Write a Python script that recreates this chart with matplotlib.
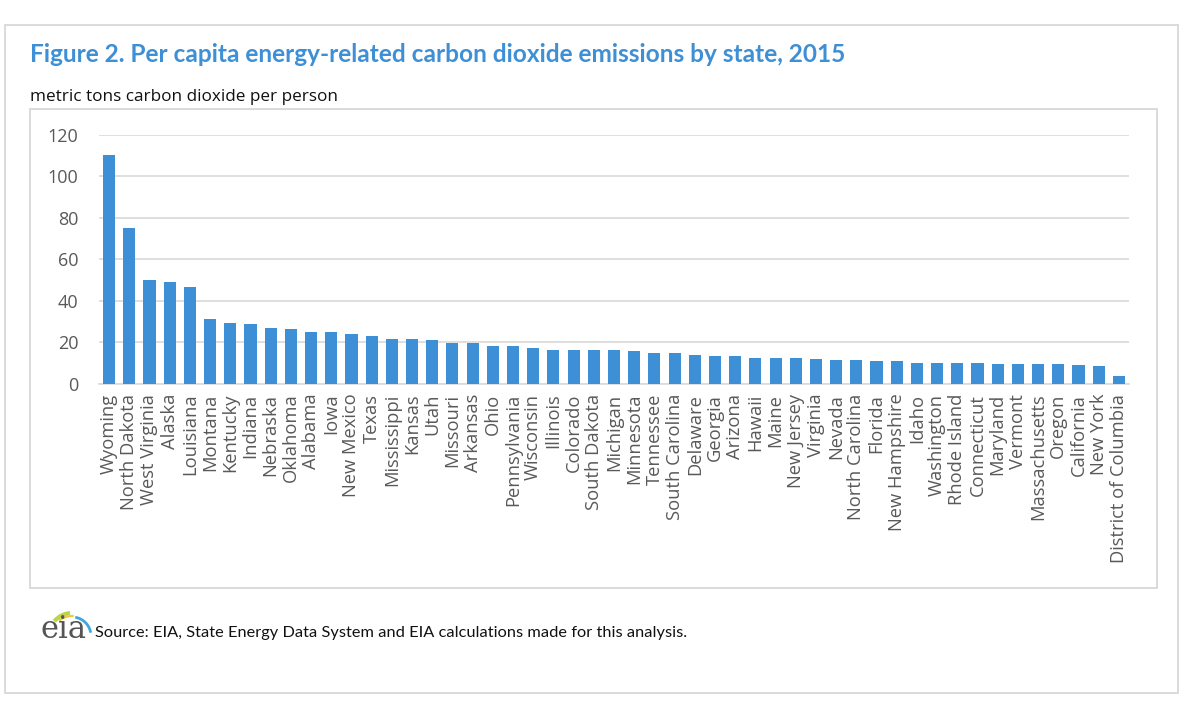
"""Per capita energy-related CO2 emissions by state, 2015 (EIA figure 2)."""

import matplotlib

matplotlib.use("Agg")

import matplotlib.pyplot as plt
from matplotlib.patches import Arc, Rectangle

# --- Data ---
STATES = [
    "Wyoming", "North Dakota", "West Virginia", "Alaska", "Louisiana",
    "Montana", "Kentucky", "Indiana", "Nebraska", "Oklahoma", "Alabama",
    "Iowa", "New Mexico", "Texas", "Mississippi", "Kansas", "Utah",
    "Missouri", "Arkansas", "Ohio", "Pennsylvania", "Wisconsin", "Illinois",
    "Colorado", "South Dakota", "Michigan", "Minnesota", "Tennessee",
    "South Carolina", "Delaware", "Georgia", "Arizona", "Hawaii", "Maine",
    "New Jersey", "Virginia", "Nevada", "North Carolina", "Florida",
    "New Hampshire", "Idaho", "Washington", "Rhode Island", "Connecticut",
    "Maryland", "Vermont", "Massachusetts", "Oregon", "California",
    "New York", "District of Columbia",
]
EMISSIONS = [
    110.6, 75.2, 50.0, 49.2, 46.8,
    31.2, 29.6, 28.7, 27.1, 26.4, 24.9,
    24.9, 24.0, 23.2, 21.6, 21.5, 21.4,
    19.8, 19.7, 18.2, 18.1, 17.3, 16.6,
    16.6, 16.5, 16.5, 15.8, 15.0,
    14.9, 14.2, 13.4, 13.3, 12.6, 12.6,
    12.5, 11.9, 11.8, 11.8, 11.1,
    11.0, 10.3, 10.3, 10.2, 10.2,
    9.5, 9.4, 9.4, 9.4, 9.3,
    8.6, 4.0,
]
Y_TICKS = [0, 20, 40, 60, 80, 100, 120]

TITLE = "Figure 2. Per capita energy-related carbon dioxide emissions by state, 2015"
UNITS = "metric tons carbon dioxide per person"
SOURCE = "Source: EIA, State Energy Data System and EIA calculations made for this analysis."

# --- Style constants ---
W, H = 1200, 727
BAR_COLOR = "#3d8fd6"
TITLE_COLOR = "#3d8fd6"
GRID_COLOR = "#d9d9d9"
FRAME_COLOR = "#d4d4d4"
TICK_COLOR = "#595959"


def px(x0, y0, x1, y1):
    """Pixel box (top-left origin) -> figure-fraction rect."""
    return [x0 / W, 1 - y1 / H, (x1 - x0) / W, (y1 - y0) / H]


fig = plt.figure(figsize=(W / 100, H / 100), dpi=100)
fig.patch.set_facecolor("white")

# outer and inner frames
for box in [(5, 25, 1178, 693), (30, 109, 1157, 588)]:
    r = px(*box)
    fig.add_artist(Rectangle((r[0], r[1]), r[2], r[3], transform=fig.transFigure,
                             fill=False, edgecolor=FRAME_COLOR, linewidth=1.2))

fig.text(30 / W, 1 - 55 / H, TITLE, fontfamily="Lato", fontweight="bold",
         fontsize=17.6, color=TITLE_COLOR, va="center", ha="left")
fig.text(30 / W, 1 - 97 / H, UNITS, fontfamily="Open Sans", fontsize=12.3,
         color="#111111", va="center", ha="left")

ax = fig.add_axes(px(99, 135, 1129, 384))
x = range(len(STATES))
ax.bar(x, EMISSIONS, width=0.6, color=BAR_COLOR, zorder=3)
ax.set_xlim(-0.5, len(STATES) - 0.5)
ax.set_ylim(0, 120)
ax.set_yticks(Y_TICKS)
ax.set_yticklabels([str(t) for t in Y_TICKS], fontfamily="Open Sans",
                   fontsize=13, color=TICK_COLOR)
ax.set_xticks(list(x))
ax.set_xticklabels(STATES, rotation=90, fontfamily="Open Sans", fontsize=13.2,
                   color=TICK_COLOR)
ax.tick_params(axis="both", length=0)
ax.tick_params(axis="y", pad=15)
ax.tick_params(axis="x", pad=7)
ax.grid(axis="y", color=GRID_COLOR, linewidth=1.2, zorder=0)
for side in ["top", "right", "left"]:
    ax.spines[side].set_visible(False)
ax.spines["bottom"].set_color(GRID_COLOR)
ax.spines["bottom"].set_linewidth(1.2)

# eia logo
logo = fig.add_axes(px(38, 603, 95, 648))
logo.set_xlim(0, 57)
logo.set_ylim(0, 45)
logo.axis("off")
logo.text(3, 3, "eia", fontfamily="DejaVu Serif", fontsize=22, color="#555555",
          va="bottom", ha="left")
logo.add_patch(Arc((34, 12), 46, 46, theta1=95, theta2=140, color="#b9d54a", lw=3))
logo.add_patch(Arc((34, 12), 40, 40, theta1=85, theta2=130, color="#f0c832", lw=1.5))
logo.add_patch(Arc((34, 12), 38, 38, theta1=10, theta2=80, color="#3ea7dc", lw=2))

fig.text(95 / W, 1 - 633 / H, SOURCE, fontfamily="Lato", fontsize=11.8,
         color="#111111", va="center", ha="left")

fig.savefig("out.png", dpi=100)
